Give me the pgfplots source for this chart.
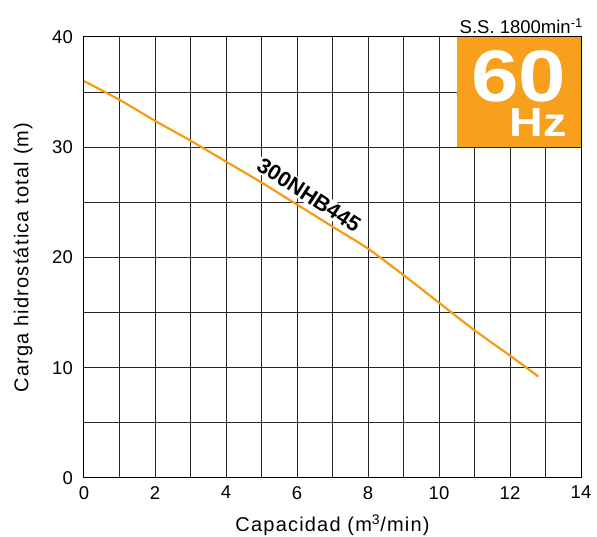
\documentclass[border=0pt]{standalone}
\usepackage{fontspec}
\setmainfont{Liberation Sans}
\usepackage{pgfplots}
\pgfplotsset{compat=1.18}
\usetikzlibrary{calc}
\definecolor{orng}{RGB}{247,160,30}
\definecolor{curve}{RGB}{247,155,20}
\newcommand{\labfont}{\fontsize{20}{22}\selectfont\addfontfeatures{LetterSpace=6}}
\begin{document}
\begin{tikzpicture}
\begin{axis}[
 scale only axis, width=497pt, height=441pt,
 xmin=0, xmax=14, ymin=0, ymax=40,
 xtick={0,2,...,14}, ytick={0,10,...,40},
 minor xtick={1,3,...,13}, minor ytick={5,15,25,35},
 grid=both,
 major grid style={black!85, line width=1pt},
 minor grid style={black!85, line width=1pt},
 major tick length=0pt, minor tick length=0pt,
 axis line style={black, line width=1pt},
 tick label style={font=\fontsize{18.5}{20}\selectfont, inner sep=0pt},
 /pgf/number format/assume math mode=true,
 xticklabel style={anchor=north, yshift=-8pt},
 yticklabel style={anchor=east, xshift=-11pt},
 clip=false,
]
\fill[orng] (axis cs:10.5,30) rectangle (axis cs:14,40);
\node[white, font=\bfseries\fontsize{73}{73}\selectfont, inner sep=0pt] at (axis cs:12.245,36.46) {\scalebox{1.17}[1]{60}};
\node[white, font=\bfseries\fontsize{40.5}{41}\selectfont, inner sep=0pt] at (axis cs:12.80,32.2) {\scalebox{1.15}[1]{Hz}};
\draw[black, line width=1pt] (rel axis cs:0,0) rectangle (rel axis cs:1,1);
\node[rotate=-33, fill=white, inner sep=1.5pt, font=\bfseries\fontsize{21.5}{22}\selectfont] at (axis cs:6.34,25.66) {300NHB445};
\addplot[curve, line width=2.2pt, smooth] coordinates {
 (0,36) (1,34.3) (2,32.4) (3,30.6) (4,28.7) (5,26.8) (6,24.8) (7,22.8) (8,20.8) (9,18.4) (10,15.9) (11,13.4) (12,11.1) (12.8,9.2)
};
\end{axis}
\node[rotate=90, inner sep=0pt, font=\labfont] at ($(current axis.west)+(-61pt,0)$) {Carga hidrostática total (m)};
\node[inner sep=0pt, font=\labfont] at ($(current axis.south)+(0,-47pt)$) {Capacidad (m\textsuperscript{3}/min)};
\node[inner sep=0pt, anchor=base east, font=\fontsize{18.5}{20}\selectfont] at ($(current axis.north east)+(2pt,3pt)$) {S.S. 1800min\textsuperscript{-1}};
\pgfresetboundingbox
\path[use as bounding box] ($(current axis.south west)+(-84pt,-59pt)$) rectangle ($(current axis.north east)+(16pt,37pt)$);
\end{tikzpicture}
\end{document}
